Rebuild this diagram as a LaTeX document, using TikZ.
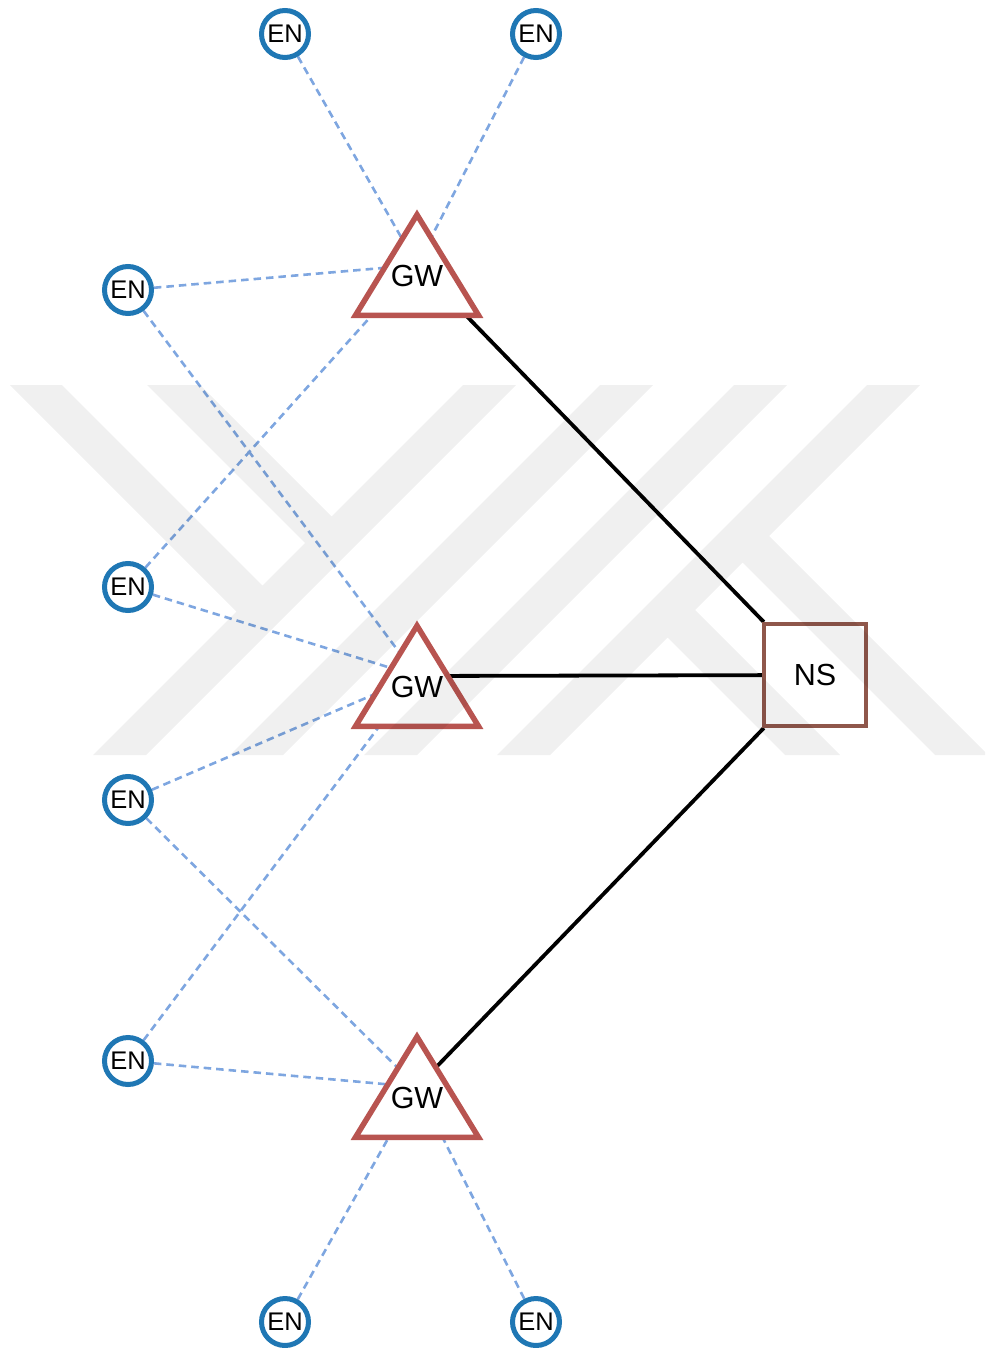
\documentclass[tikz,border=0pt]{standalone}
\usepackage{fontspec}
\setmainfont{Liberation Sans}
\pgfdeclarelayer{edges}
\pgfdeclarelayer{tri}
\pgfdeclarelayer{wm}
\pgfsetlayers{edges,tri,main,wm}
\definecolor{enblue}{RGB}{31,119,180}
\definecolor{gwred}{RGB}{184,84,80}
\definecolor{nsbrown}{RGB}{143,87,75}
\definecolor{dashblue}{RGB}{126,166,224}
\begin{document}
\begin{tikzpicture}[x=1pt,y=-1pt,
 ennode/.style={circle, draw=enblue, line width=5pt, minimum size=47pt, inner sep=0pt, font=\fontsize{25.5}{26}\selectfont},
 gwnode/.style={rectangle, draw=none, minimum width=123pt, minimum height=100.5pt, inner sep=0pt, outer sep=0pt, text height=42pt, text depth=0pt, font=\fontsize{30.5}{31}\selectfont},
 gwtri/.style={draw=gwred, line width=5.5pt, fill=white, line join=miter},
 nsnode/.style={rectangle, draw=nsbrown, line width=4pt, minimum size=102pt, inner sep=0pt, font=\fontsize{30.5}{31}\selectfont},
 enedge/.style={draw=dashblue, line width=2.6pt, dash pattern=on 7.5pt off 5pt},
 nsedge/.style={draw=black, line width=3.8pt},
 wmark/.style={fill=black, fill opacity=0.06}
]
\useasboundingbox (0,0) rectangle (985,1348);

% end nodes
\node[ennode] (en1) at (285,34) {EN};
\node[ennode] (en2) at (536,34) {EN};
\node[ennode] (en3) at (128,290) {EN};
\node[ennode] (en4) at (128,587) {EN};
\node[ennode] (en5) at (128,800) {EN};
\node[ennode] (en6) at (128,1061) {EN};
\node[ennode] (en7) at (285,1322) {EN};
\node[ennode] (en8) at (536,1322) {EN};

% gateways
\node[gwnode] (gw1) at (417,265) {GW};
\node[gwnode] (gw2) at (417,676) {GW};
\node[gwnode] (gw3) at (417,1087) {GW};

% network server
\node[nsnode] (ns) at (815,675) {NS};

\begin{pgfonlayer}{tri}
\foreach \g in {gw1,gw2,gw3}
  \draw[gwtri] (\g.north) -- (\g.south east) -- (\g.south west) -- cycle;
\end{pgfonlayer}

\begin{pgfonlayer}{edges}
\draw[enedge] (en1) -- (gw1.center);
\draw[enedge] (en2) -- (gw1.center);
\draw[enedge] (en3) -- (gw1.center);
\draw[enedge] (en4) -- (gw1.center);
\draw[enedge] (en3) -- (gw2.center);
\draw[enedge] (en4) -- (gw2.center);
\draw[enedge] (en5) -- (gw2.center);
\draw[enedge] (en6) -- (gw2.center);
\draw[enedge] (en5) -- (gw3.center);
\draw[enedge] (en6) -- (gw3.center);
\draw[enedge] (en7) -- (gw3.center);
\draw[enedge] (en8) -- (gw3.center);
\draw[nsedge] (gw1.center) -- (ns);
\draw[nsedge] (gw2.center) -- (ns);
\draw[nsedge] (gw3.center) -- (ns);
\end{pgfonlayer}

% watermark
\begin{pgfonlayer}{wm}
\fill[wmark]
 (93,755) -- (146,755) -- (516,385) -- (463,385) -- cycle
 (230,755) -- (283,755) -- (653,385) -- (600,385) -- cycle
 (364,755) -- (417,755) -- (787,385) -- (734,385) -- cycle
 (497,755) -- (550,755) -- (920,385) -- (867,385) -- cycle
 (236.5,611.5) -- (289,612) -- (62,385) -- (10,385) -- cycle
 (305,543) -- (358,543) -- (200,385) -- (147,385) -- cycle
 (785,755) -- (840,755) -- (668.5,583.5) -- (641,611) -- cycle
 (935,755) -- (985,755) -- (985,752) -- (742.5,509.5) -- (716,536) -- cycle;
\end{pgfonlayer}
\end{tikzpicture}
\end{document}
